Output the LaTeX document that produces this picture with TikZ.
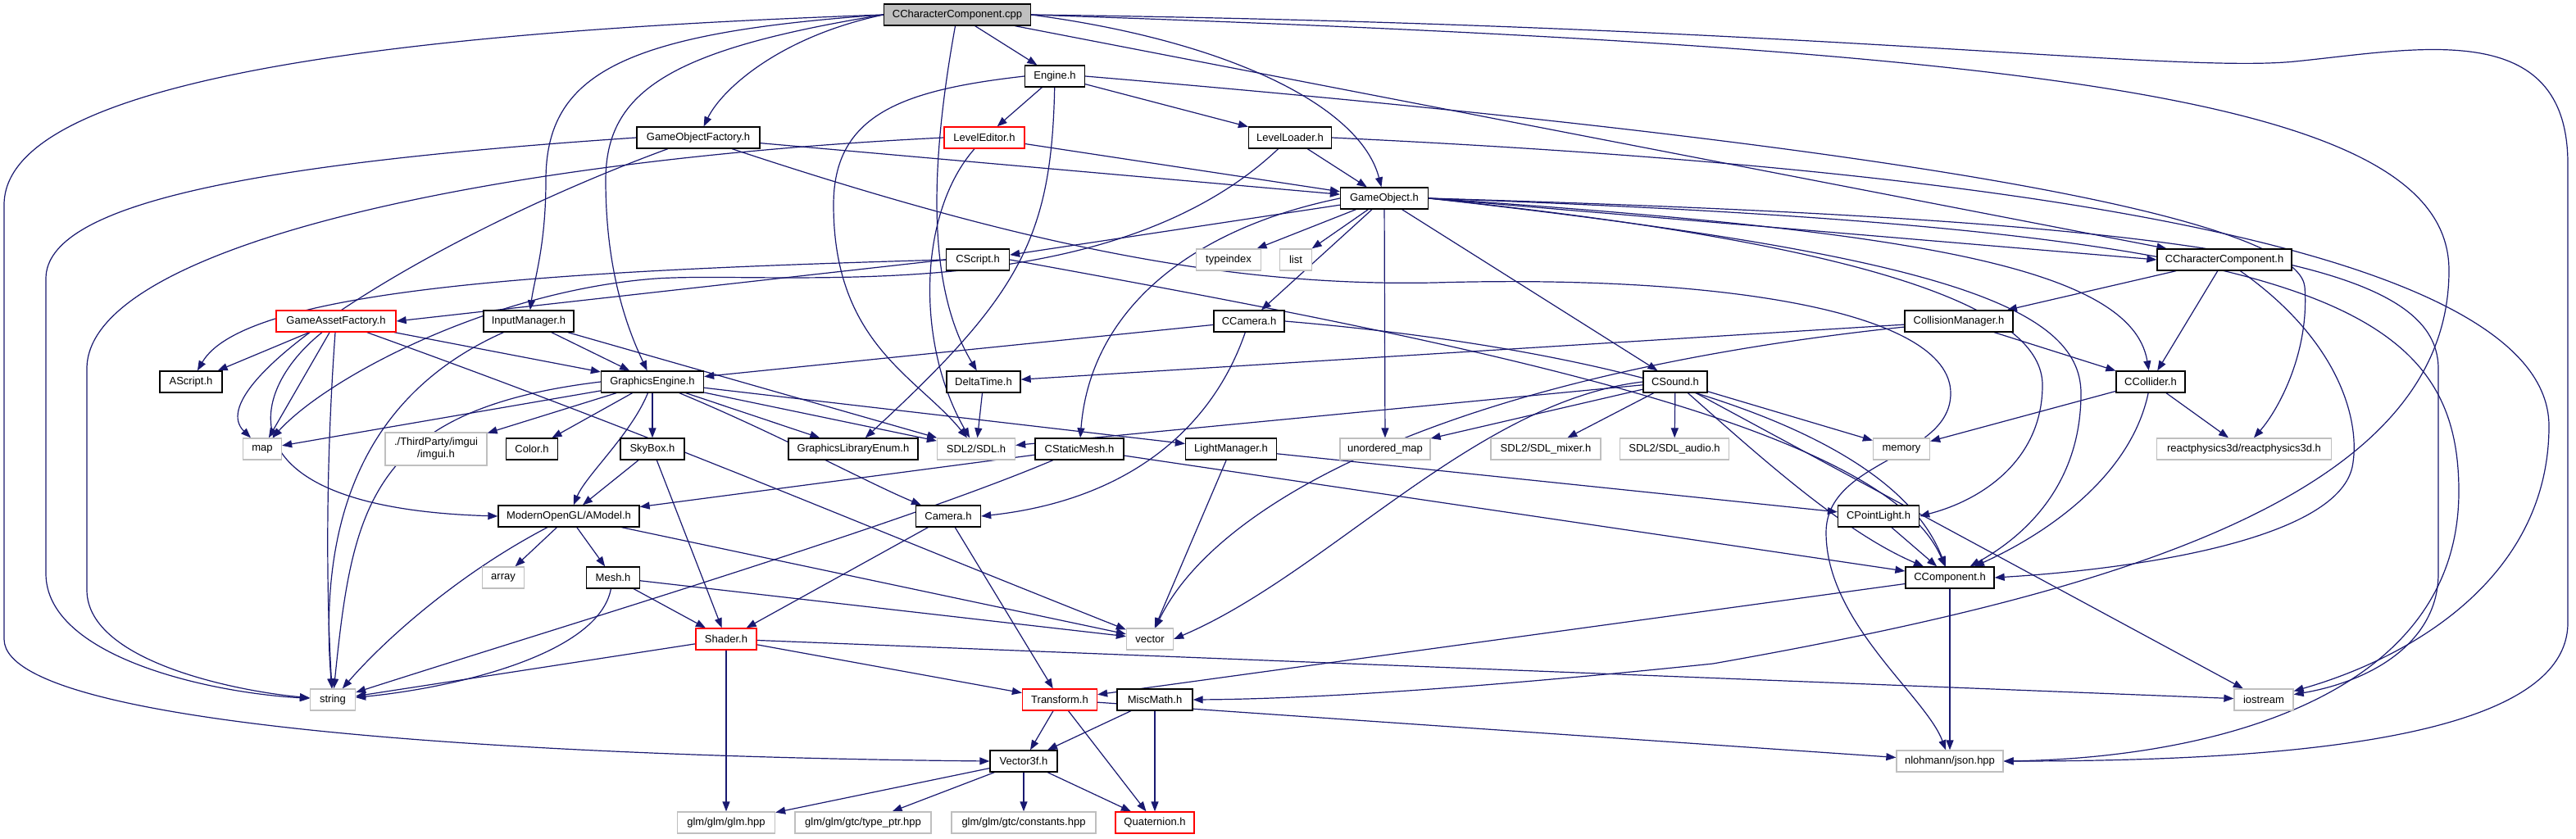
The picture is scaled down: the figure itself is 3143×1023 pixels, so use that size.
\documentclass[tikz,border=0pt]{standalone}
\usepackage{fontspec}
\setmainfont{Liberation Sans}
\usetikzlibrary{arrows.meta}
\pgfdeclarelayer{bg}
\pgfsetlayers{bg,main}
\definecolor{edgec}{HTML}{191970}
\definecolor{grayb}{HTML}{BFBFBF}
\definecolor{rootf}{HTML}{BFBFBF}
\begin{document}
\begin{tikzpicture}[x=1pt,y=-1pt,
  box/.style={draw=black,line width=1.3pt,fill=white,minimum height=26pt,inner sep=0pt,font=\fontsize{13}{15}\selectfont},
  nb/.style={box},
  nr/.style={box,draw=red},
  ng/.style={box,draw=grayb},
  dep/.style={draw=edgec,line width=1.2pt,-{Triangle[length=12pt,width=9pt]}}]
\useasboundingbox (0,0) rectangle (3143,1023);
% nodes
\node[nb,fill=rootf,minimum width=179pt] (cpp) at (1168,18) {CCharacterComponent.cpp};
\node[nb,minimum width=73pt] (engine) at (1287,93) {Engine.h};
\node[nb,minimum width=150pt] (gof) at (852,168) {GameObjectFactory.h};
\node[nr,minimum width=98pt] (led) at (1201,168) {LevelEditor.h};
\node[nb,minimum width=101pt] (lld) at (1574,168) {LevelLoader.h};
\node[nb,minimum width=107pt] (gobj) at (1689,242) {GameObject.h};
\node[nb,minimum width=77pt] (cscript) at (1193,317) {CScript.h};
\node[ng,minimum width=79pt] (tidx) at (1499,317) {typeindex};
\node[ng,minimum width=39pt] (list) at (1581,317) {list};
\node[nb,minimum width=164pt] (cch) at (2714,317) {CCharacterComponent.h};
\node[nr,minimum width=146pt] (gaf) at (410,392) {GameAssetFactory.h};
\node[nb,minimum width=110pt] (inm) at (645,392) {InputManager.h};
\node[nb,minimum width=86pt] (ccam) at (1524,392) {CCamera.h};
\node[nb,minimum width=132pt] (colm) at (2390,392) {CollisionManager.h};
\node[nb,minimum width=76pt] (ascript) at (233,466) {AScript.h};
\node[nb,minimum width=125pt] (ge) at (796,466) {GraphicsEngine.h};
\node[nb,minimum width=90pt] (dtime) at (1200,466) {DeltaTime.h};
\node[nb,minimum width=78pt] (csound) at (2044,466) {CSound.h};
\node[nb,minimum width=84pt] (ccol) at (2624,466) {CCollider.h};
\node[ng,minimum width=47pt] (map) at (320,548) {map};
\node[ng,minimum width=124pt,minimum height=40pt,align=center] (imgui) at (532,548) {./ThirdParty/imgui\\/imgui.h};
\node[nb,minimum width=63pt] (color) at (649,548) {Color.h};
\node[nb,minimum width=78pt] (skybox) at (796,548) {SkyBox.h};
\node[nb,minimum width=158pt] (glenum) at (1041,548) {GraphicsLibraryEnum.h};
\node[ng,minimum width=95pt] (sdl) at (1191,548) {SDL2/SDL.h};
\node[nb,minimum width=108pt] (csm) at (1317,548) {CStaticMesh.h};
\node[nb,minimum width=111pt] (lightm) at (1502,548) {LightManager.h};
\node[ng,minimum width=110pt] (umap) at (1690,548) {unordered\_map};
\node[ng,minimum width=134pt] (mixer) at (1886,548) {SDL2/SDL\_mixer.h};
\node[ng,minimum width=133pt] (audio) at (2043,548) {SDL2/SDL\_audio.h};
\node[ng,minimum width=69pt] (memory) at (2320,548) {memory};
\node[ng,minimum width=213pt] (react) at (2738,548) {reactphysics3d/reactphysics3d.h};
\node[nb,minimum width=172pt] (amodel) at (694,630) {ModernOpenGL/AModel.h};
\node[nb,minimum width=79pt] (camera) at (1157,630) {Camera.h};
\node[nb,minimum width=99pt] (cpl) at (2292,630) {CPointLight.h};
\node[ng,minimum width=51pt] (array) at (614,705) {array};
\node[nb,minimum width=65pt] (mesh) at (748,705) {Mesh.h};
\node[nb,minimum width=108pt] (ccomp) at (2379,705) {CComponent.h};
\node[nr,minimum width=74pt] (shader) at (886,780) {Shader.h};
\node[ng,minimum width=57pt] (vector) at (1403,780) {vector};
\node[ng,minimum width=55pt] (string) at (406,854) {string};
\node[nr,minimum width=91pt] (transform) at (1293,854) {Transform.h};
\node[nb,minimum width=92pt] (misc) at (1409,854) {MiscMath.h};
\node[ng,minimum width=72pt] (iostream) at (2762,854) {iostream};
\node[nb,minimum width=82pt] (vec3) at (1249,929) {Vector3f.h};
\node[ng,minimum width=130pt] (json) at (2379,929) {nlohmann/json.hpp};
\node[ng,minimum width=119pt] (glm) at (886,1004) {glm/glm/glm.hpp};
\node[ng,minimum width=166pt] (typeptr) at (1053,1004) {glm/glm/gtc/type\_ptr.hpp};
\node[ng,minimum width=176pt] (constants) at (1249,1004) {glm/glm/gtc/constants.hpp};
\node[nr,minimum width=96pt] (quat) at (1409,1004) {Quaternion.h};
% edges
\begin{pgfonlayer}{bg}
\fill[white] (0,0) rectangle (3143,1023);
% cpp
\draw[dep] (cpp) -- (engine);
\draw[dep] (cpp.west) .. controls (950,45) and (880,110) .. (gof);
\draw[dep] (cpp.west) .. controls (760,40) and (666,90) .. (666,220) .. controls (666,300) and (652,340) .. (inm);
\draw[dep] (cpp.west) .. controls (820,60) and (739,110) .. (739,220) .. controls (739,330) and (765,400) .. (ge);
\draw[dep] (cpp) .. controls (1135,200) and (1130,350) .. (dtime);
\draw[dep] (cpp.east) .. controls (1500,50) and (1660,130) .. (gobj);
\draw[dep] (cpp) -- (cch);
\draw[dep] (cpp.east) .. controls (2500,60) and (2988,120) .. (2988,330) .. controls (2988,600) and (2600,720) .. (2090,810) .. controls (1800,840) and (1600,853) .. (misc.east);
\draw[dep] (cpp.east) .. controls (2200,30) and (2650,90) .. (2800,75) .. controls (2950,60) and (3133,20) .. (3133,200) -- (3133,760) .. controls (3133,900) and (2800,929) .. (json.east);
\draw[dep] (cpp.west) .. controls (600,35) and (5,80) .. (5,250) -- (5,780) .. controls (5,900) and (800,925) .. (vec3.west);
% engine
\draw[dep] (engine) -- (led);
\draw[dep] (engine) -- (lld);
\draw[dep] (engine) .. controls (1283,290) and (1245,360) .. (glenum);
\draw[dep] (engine.west) .. controls (1100,110) and (1017,140) .. (1017,250) .. controls (1017,420) and (1120,460) .. (sdl);
\draw[dep] (engine.east) .. controls (2000,150) and (2800,240) .. (2812,350) .. controls (2818,430) and (2780,500) .. (react);
% gof
\draw[dep] (gof) -- (gobj);
\draw[dep] (gof.west) .. controls (300,200) and (56,250) .. (56,340) -- (56,700) .. controls (56,800) and (250,845) .. (string);
\draw[dep] (gof) .. controls (520,290) and (240,470) .. (map);
\draw[dep] (gof) .. controls (1250,300) and (1500,350) .. (1750,345) .. controls (2100,335) and (2380,380) .. (2380,480) .. controls (2380,560) and (2228,560) .. (2228,650) .. controls (2228,760) and (2350,850) .. (json);
% led
\draw[dep] (led) -- (gobj);
\draw[dep] (led) .. controls (1120,260) and (1117,420) .. (sdl);
\draw[dep] (led.west) .. controls (600,195) and (106,300) .. (106,450) -- (106,720) .. controls (106,810) and (300,845) .. (string);
% lld
\draw[dep] (lld) -- (gobj);
\draw[dep] (lld) .. controls (1350,380) and (950,330) .. (800,340) .. controls (600,355) and (400,460) .. (map);
\draw[dep] (lld.east) .. controls (2300,200) and (3110,280) .. (3110,520) .. controls (3110,700) and (2950,800) .. (iostream);
% gobj
\draw[dep] (gobj) -- (cscript);
\draw[dep] (gobj.west) .. controls (1450,280) and (1330,380) .. (csm);
\draw[dep] (gobj) -- (tidx);
\draw[dep] (gobj) -- (list);
\draw[dep] (gobj) -- (ccam);
\draw[dep] (gobj) -- (umap);
\draw[dep] (gobj) -- (csound);
\draw[dep] (gobj.east) -- (cch.west);
\draw[dep] (gobj.east) .. controls (2300,280) and (2600,320) .. (ccol);
\draw[dep] (gobj.east) .. controls (2300,300) and (2492,380) .. (2492,470) .. controls (2492,560) and (2420,610) .. (cpl.east);
\draw[dep] (gobj.east) .. controls (2350,310) and (2539,370) .. (2539,480) .. controls (2539,600) and (2460,660) .. (ccomp);
\draw[dep] (gobj.east) .. controls (2700,270) and (2975,320) .. (2975,450) -- (2975,700) .. controls (2975,780) and (2900,830) .. (iostream);
\draw[dep] (gobj.east) .. controls (2800,280) and (3000,360) .. (3000,600) .. controls (3000,850) and (2700,925) .. (json.east);
% cscript
\draw[dep] (cscript.west) -- (gaf.east);
\draw[dep] (cscript.west) .. controls (700,330) and (300,350) .. (ascript);
\draw[dep] (cscript.east) .. controls (1800,420) and (2300,520) .. (ccomp);
% gaf
\draw[dep] (gaf) -- (ascript);
\draw[dep] (gaf) -- (ge);
\draw[dep] (gaf) -- (map);
\draw[dep] (gaf) .. controls (395,600) and (400,760) .. (string);
\draw[dep] (gaf) .. controls (300,480) and (270,620) .. (amodel.west);
\draw[dep] (gaf) .. controls (820,540) and (1000,620) .. (vector);
% inm
\draw[dep] (inm) -- (ge);
\draw[dep] (inm) -- (sdl);
\draw[dep] (inm) .. controls (470,470) and (385,600) .. (string);
% ge
\draw[dep] (ge) -- (map);
\draw[dep] (ge) -- (imgui);
\draw[dep] (ge) -- (color);
\draw[dep] (ge) -- (skybox);
\draw[dep] (ge) .. controls (770,530) and (715,580) .. (amodel);
\draw[dep] (ge) -- (glenum);
\draw[dep] (ge) -- (sdl);
\draw[dep] (ge) -- (lightm);
\draw[dep] (ge) .. controls (950,530) and (1060,590) .. (camera);
\draw[dep] (ge.west) .. controls (450,500) and (430,620) .. (string);
% ccam
\draw[dep] (ccam) -- (ge);
\draw[dep] (ccam) .. controls (1480,520) and (1380,610) .. (camera.east);
\draw[dep] (ccam.east) .. controls (1900,420) and (2300,500) .. (ccomp);
% misc mid
\draw[dep] (dtime) -- (sdl);
\draw[dep] (colm) -- (dtime);
\draw[dep] (colm) .. controls (1750,460) and (1480,620) .. (vector);
\draw[dep] (colm) -- (ccol);
% csound
\draw[dep] (csound) -- (sdl);
\draw[dep] (csound.west) .. controls (1800,490) and (1620,700) .. (vector.east);
\draw[dep] (csound) -- (umap);
\draw[dep] (csound) -- (mixer);
\draw[dep] (csound) -- (audio);
\draw[dep] (csound) -- (memory);
\draw[dep] (csound) -- (iostream);
\draw[dep] (csound) .. controls (2150,560) and (2250,650) .. (ccomp);
% cch
\draw[dep] (cch) -- (colm);
\draw[dep] (cch) -- (ccol);
\draw[dep] (cch) .. controls (2860,420) and (2880,520) .. (2870,570) .. controls (2850,660) and (2600,695) .. (ccomp.east);
% ccol
\draw[dep] (ccol) -- (memory);
\draw[dep] (ccol) -- (react);
\draw[dep] (ccol) .. controls (2600,580) and (2500,650) .. (ccomp);
% lower
\draw[dep] (skybox) -- (amodel);
\draw[dep] (skybox) -- (shader);
\draw[dep] (csm) -- (amodel);
\draw[dep] (csm) .. controls (1100,640) and (700,760) .. (string);
\draw[dep] (csm) -- (ccomp);
\draw[dep] (lightm) -- (vector);
\draw[dep] (lightm) -- (cpl);
\draw[dep] (amodel) -- (array);
\draw[dep] (amodel) -- (mesh);
\draw[dep] (amodel) .. controls (560,700) and (470,780) .. (string);
\draw[dep] (amodel) -- (vector);
\draw[dep] (mesh) -- (shader);
\draw[dep] (mesh) .. controls (730,800) and (550,840) .. (string);
\draw[dep] (mesh) -- (vector);
\draw[dep] (camera) -- (shader);
\draw[dep] (camera) -- (transform);
\draw[dep] (shader) -- (string);
\draw[dep] (shader) -- (glm);
\draw[dep] (shader) -- (iostream);
\draw[dep] (shader) -- (transform);
\draw[dep] (cpl) -- (ccomp);
\draw[dep] (ccomp) -- (transform);
\draw[dep] (ccomp) -- (json);
\draw[dep] (transform) -- (vec3);
\draw[dep] (transform) -- (quat);
\draw[dep] (transform) -- (json);
\draw[dep] (misc) -- (vec3);
\draw[dep] (misc) -- (quat);
\draw[dep] (vec3) -- (glm);
\draw[dep] (vec3) -- (typeptr);
\draw[dep] (vec3) -- (constants);
\draw[dep] (vec3) -- (quat);
\end{pgfonlayer}
\end{tikzpicture}
\end{document}
